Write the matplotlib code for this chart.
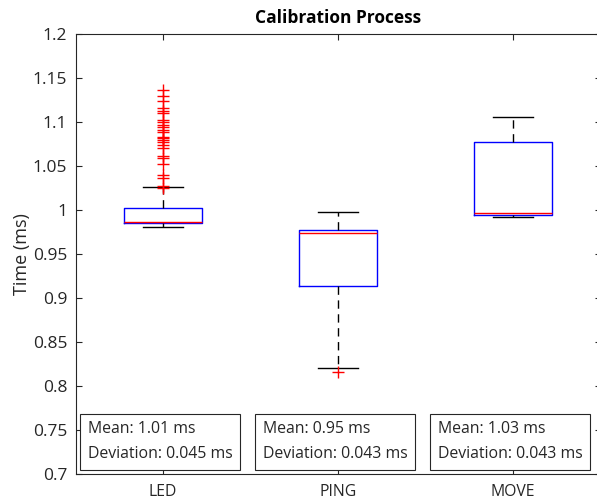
import matplotlib
matplotlib.use("Agg")
import matplotlib.pyplot as plt

plt.rcParams['font.family'] = ['Open Sans', 'DejaVu Sans']

categories = ["LED", "PING", "MOVE"]
medians = [0.9862, 0.9731, 0.9962]
q1 = [0.9850, 0.9133, 0.9943]
q3 = [1.0015, 0.9765, 1.0769]
whisker_lo = [0.9800, 0.8197, 0.9917]
whisker_hi = [1.0258, 0.9970, 1.1057]
outliers_led = [1.1364, 1.1295, 1.1242, 1.1155, 1.1129, 1.1098, 1.1023, 1.1004,
                1.0966, 1.0947, 1.0909, 1.0890, 1.0833, 1.0814, 1.0795, 1.0769,
                1.0739, 1.0708, 1.0617, 1.0587, 1.0519, 1.0398, 1.0367, 1.0276,
                1.0253]
outliers_ping = [0.8152]
outliers_move = []
means = [1.01, 0.95, 1.03]
deviations = [0.045, 0.043, 0.043]
yticks = [0.7, 0.75, 0.8, 0.85, 0.9, 0.95, 1.0, 1.05, 1.1, 1.15, 1.2]
ytick_labels = ["0.7", "0.75", "0.8", "0.85", "0.9", "0.95", "1", "1.05", "1.1", "1.15", "1.2"]

fliers = [outliers_led, outliers_ping, outliers_move]
stats = []
for i in range(3):
    stats.append(dict(med=medians[i], q1=q1[i], q3=q3[i], whislo=whisker_lo[i],
                      whishi=whisker_hi[i], fliers=fliers[i], label=categories[i]))

fig = plt.figure(figsize=(5.97, 5.03), dpi=100)
W, H = 597, 503
ax = fig.add_axes([75.5 / W, 1 - 473.5 / H, 525 / W, 439.5 / H])

ax.bxp(stats, positions=[1, 2, 3], widths=0.45, showfliers=True,
       boxprops=dict(color='#0000ff', lw=1.0),
       medianprops=dict(color='#ff0000', lw=1.0),
       whiskerprops=dict(color='#000000', lw=1.0, linestyle=(0, (6, 4))),
       capprops=dict(color='#000000', lw=1.0),
       flierprops=dict(marker='+', markeredgecolor='#ff0000', markersize=8,
                       markeredgewidth=1.0, linestyle='none'))

ax.set_xlim(0.5, 3.5)
ax.set_ylim(0.7, 1.2)
ax.set_yticks(yticks)
ax.set_yticklabels(ytick_labels)
ax.set_xticks([1, 2, 3])
ax.set_xticklabels(categories)
ax.tick_params(direction='in', length=4, width=0.8, color='#262626',
               labelcolor='#262626', top=True, right=True, pad=6)
ax.tick_params(axis='x', labelsize=11.3, pad=7.5)
ax.tick_params(axis='y', labelsize=12.5)
for s in ax.spines.values():
    s.set_color('#262626')
    s.set_linewidth(0.8)

ax.set_ylabel("Time (ms)", fontsize=13, color='#262626', labelpad=1)
ax.set_title("Calibration Process", fontsize=12.5, fontweight='bold', pad=8)

for i in range(3):
    ax.text(i + 1 - 0.43, 0.7362,
            f"Mean: {means[i]:.2f} ms\nDeviation: {deviations[i]:.3f} ms",
            fontsize=11.4, color='#262626', va='center', ha='left', linespacing=1.7,
            bbox=dict(boxstyle='square,pad=0.5', fc='white', ec='#262626', lw=0.8))

fig.savefig("out.png", dpi=100)
